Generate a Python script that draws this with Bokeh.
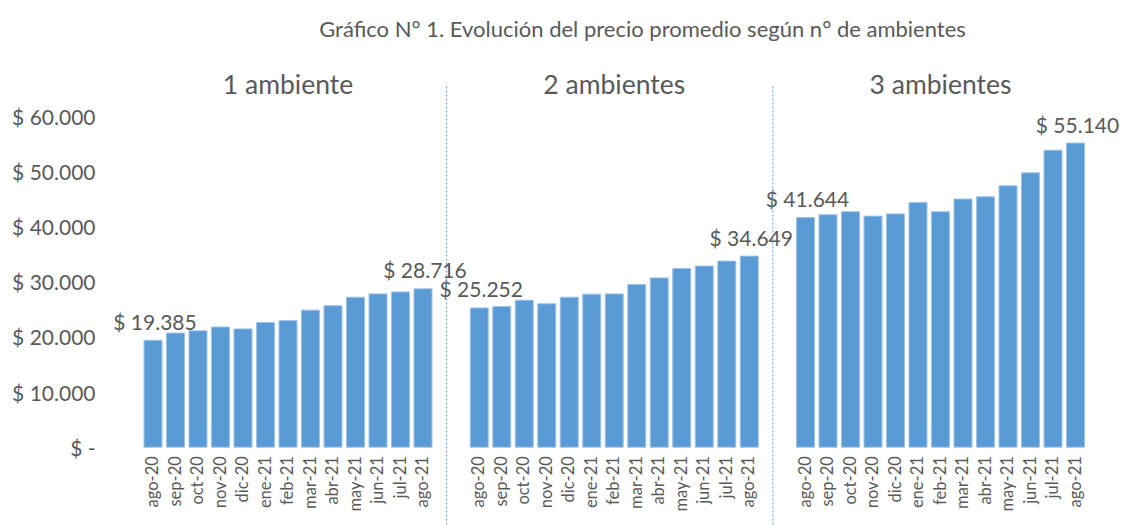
import math
from bokeh.plotting import figure
from bokeh.models import Range1d, FixedTicker, ColumnDataSource, Label
from bokeh.core.properties import value
from bokeh.embed import file_html
from bokeh.resources import INLINE

# ---------------- data ----------------
title_text = "Gráfico N° 1. Evolución del precio promedio según n° de ambientes"
groups = ["1 ambiente", "2 ambientes", "3 ambientes"]
months = ["ago-20", "sep-20", "oct-20", "nov-20", "dic-20", "ene-21", "feb-21",
          "mar-21", "abr-21", "may-21", "jun-21", "jul-21", "ago-21"]
precio_1amb = [19385, 20700, 21100, 21800, 21450, 22600, 22950,
               24850, 25650, 27200, 27800, 28150, 28716]
precio_2amb = [25252, 25500, 26650, 26000, 27200, 27750, 27800,
               29500, 30700, 32400, 32850, 33750, 34649]
precio_3amb = [41644, 42150, 42700, 41900, 42300, 44350, 42700,
               45000, 45400, 47400, 49750, 53850, 55140]
y_ticks = [0, 10000, 20000, 30000, 40000, 50000, 60000]
y_tick_labels = ["$ -", "$ 10.000", "$ 20.000", "$ 30.000", "$ 40.000", "$ 50.000", "$ 60.000"]

# ---------------- style / layout ----------------
FONT = "Lato"
GREY = "#595959"
BLUE = "#5B9BD5"
W, H = 1121, 525
LEFT = 100
SLOT_PX = 22.5
FIRST_CENTER_PX = 152.5
GROUP_STRIDE = 14.5
ZERO_PX = 446.7
PX_PER_VAL = 55.15 / 10000

x_start = (LEFT - FIRST_CENTER_PX) / SLOT_PX
x_end = (W - FIRST_CENTER_PX) / SLOT_PX
y_end = ZERO_PX / PX_PER_VAL
y_start = -(H - ZERO_PX) / PX_PER_VAL

series = [precio_1amb, precio_2amb, precio_3amb]

xs, vals, mons = [], [], []
lx, lv, lt = [], [], []
for g, s in enumerate(series):
    for i, (m, v) in enumerate(zip(months, s)):
        x = g * GROUP_STRIDE + i
        xs.append(x); vals.append(v); mons.append(m)
        if i == 0 or i == len(months) - 1:
            lx.append(x); lv.append(v)
            lt.append("$ " + f"{v:,}".replace(",", "."))

bars = ColumnDataSource(dict(x=xs, v=vals, m=mons))
labels = ColumnDataSource(dict(x=lx, v=lv, t=lt))

p = figure(width=W, height=H, output_backend="svg", toolbar_location=None,
           x_range=Range1d(x_start, x_end), y_range=Range1d(y_start, y_end),
           x_axis_location=None, min_border_left=LEFT, min_border_right=0,
           min_border_top=0, min_border_bottom=0, tools="")
p.outline_line_color = None
p.xgrid.visible = False
p.ygrid.visible = False
p.background_fill_color = "white"

ax = p.yaxis[0]
ax.ticker = FixedTicker(ticks=y_ticks)
ax.major_label_overrides = {t: l for t, l in zip(y_ticks, y_tick_labels)}
ax.axis_line_color = None
ax.major_tick_line_color = None
ax.minor_tick_line_color = None
ax.major_tick_out = 0
ax.major_tick_in = 0
ax.minor_tick_out = 0
ax.major_label_standoff = 5
ax.major_label_text_font = FONT
ax.major_label_text_font_size = "21px"
ax.major_label_text_color = GREY

p.vbar(x="x", top="v", bottom=0, width=0.8, source=bars,
       fill_color=BLUE, line_color="#9DC3E6", line_width=1)

p.text(x="x", y="v", text="t", source=labels, text_align="center",
       text_baseline="alphabetic", y_offset=-19, x_offset=2,
       text_font=value(FONT), text_font_size="21px", text_color=GREY)

p.text(x="x", y=0, text="m", source=bars, angle=math.pi / 2,
       text_align="right", text_baseline="middle", y_offset=9, x_offset=-1,
       text_font=value(FONT), text_font_size="16.5px", text_color=GREY)

# group separators (dotted)
sep_x = [g * GROUP_STRIDE + len(months) - 1 + 1.05 for g in range(len(groups) - 1)]
sep_top = (ZERO_PX - 86) / PX_PER_VAL
p.segment(x0=sep_x, y0=[sep_top] * len(sep_x), x1=sep_x, y1=[y_start] * len(sep_x),
          line_color=BLUE, line_dash="2 2", line_width=1)

# group titles
for g, name in enumerate(groups):
    p.add_layout(Label(x=g * GROUP_STRIDE + (len(months) - 1) / 2, y=H - 83,
                       x_units="data", y_units="screen", text=name,
                       text_align="center", text_baseline="middle",
                       text_font=FONT, text_font_size="26.5px", text_color=GREY))

# main title
p.add_layout(Label(x=642 - LEFT, y=H - 28, x_units="screen", y_units="screen",
                   text=title_text, text_align="center", text_baseline="middle",
                   text_font=FONT, text_font_size="22px", text_color=GREY))

open("out.html", "w").write(file_html(p, INLINE))
